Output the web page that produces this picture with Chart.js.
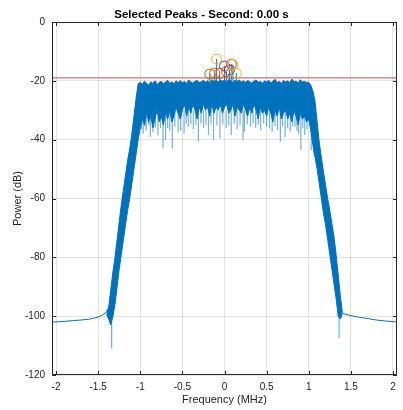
<!DOCTYPE html>
<html lang="en">
<head>
    <meta charset="UTF-8">
    <title>Selected Peaks</title>
    <script src="https://cdn.jsdelivr.net/npm/chart.js"></script>
    <style>
        body { margin: 0; background: #fff; }
        canvas { display: block; }
    </style>
</head>
<body>
    <canvas id="peaksChart" width="403" height="410"></canvas>

    <script>
        // Axis ticks
        const xTicks = [-2, -1.5, -1, -0.5, 0, 0.5, 1, 1.5, 2];
        const yTicks = [0, -20, -40, -60, -80, -100, -120];

        // Noise floor outside the band (MHz, dB)
        const floorLeftFreq = [-2.048, -1.9, -1.8, -1.7, -1.6, -1.5, -1.45, -1.4];
        const floorLeftPower = [-102, -101.8, -101.5, -101.3, -101, -100.3, -99.6, -98.6];
        const floorRightFreq = [1.4, 1.42, 1.5, 1.6, 1.7, 1.8, 1.9, 2.048];
        const floorRightPower = [-98.8, -99.2, -99.8, -100.4, -100.8, -101.3, -101.6, -102];

        // Band spectrum, sampled every 0.025 MHz from -1.4 to 1.4: top and bottom of the trace
        const bandStart = -1.4;
        const bandStep = 0.025;
        const bandUpper = [
            -98.6, -97, -91, -85, -80, -74, -68, -62, -57, -52, -47, -43, -38, -32, -26, -21,
            -20.6, -21.2, -20.1, -20.8, -21.5, -20.3, -20.9, -20.0, -21.3, -20.5,
            -20.2, -21.0, -20.4, -19.8, -20.9, -20.3, -21.1, -20.0, -20.6, -19.9,
            -20.7, -20.2, -21.0, -19.7, -20.4, -20.8, -20.1, -19.9, -20.6, -20.3,
            -19.8, -20.5, -20.0, -20.7, -19.6, -20.2, -19.9, -20.4, -19.7, -20.1,
            -19.8, -20.3, -19.6, -20.0, -20.5, -19.8, -20.2, -19.7, -20.4, -20.0,
            -20.6, -19.9, -20.3, -20.8, -20.1, -19.7, -20.5, -20.2, -20.9, -20.0,
            -20.4, -19.8, -20.7, -20.1, -19.5, -20.6, -20.2, -20.9, -19.9, -20.4,
            -20.0, -20.7, -19.4, -20.3, -20.1, -20.8, -19.6, -20.4, -20.2, -20.6,
            -20.5, -21.5, -23.5, -27, -34, -41, -46, -51, -55.5, -60, -64, -68.5, -73, -79, -86, -93, -98.8
        ];
        const bandLower = [
            -99.4, -101, -103, -100, -96, -90, -84, -79, -74, -69, -64, -60, -55, -50, -45, -40,
            -36, -33, -35, -31, -34, -32, -36, -33, -30, -34,
            -32, -35, -31, -33, -30, -34, -32, -29, -31, -33,
            -30, -28, -32, -29, -31, -28, -30, -33, -29, -31,
            -28, -30, -29, -32, -28, -31, -29, -30, -28, -31,
            -29, -28, -31, -30, -28, -32, -29, -30, -31, -28,
            -30, -32, -29, -31, -28, -30, -33, -29, -31, -30,
            -32, -29, -31, -34, -30, -32, -29, -33, -31, -30,
            -33, -31, -34, -30, -32, -35, -31, -33, -32, -34,
            -33, -37, -42, -46, -50, -55, -60, -65, -69, -74, -79, -84, -89, -94, -100, -101, -99.2
        ];

        // Deep dips below the trace
        const spikeFreq = [-1.34, -0.985, -0.965, -0.945, -0.93, -0.9, -0.88, -0.85, -0.82, -0.79, -0.76,
            -0.73, -0.7, -0.675, -0.65, -0.62, -0.59, -0.55, -0.52, -0.48, -0.455, -0.43, -0.4, -0.37,
            -0.34, -0.31, -0.28, -0.25, -0.22, -0.19, -0.16, -0.13, -0.09, -0.054, -0.02, 0.02, 0.05,
            0.08, 0.115, 0.15, 0.185, 0.22, 0.236, 0.27, 0.31, 0.34, 0.37, 0.4, 0.43, 0.465, 0.5, 0.535,
            0.566, 0.6, 0.63, 0.663, 0.69, 0.72, 0.75, 0.78, 0.81, 0.837, 0.86, 0.88, 0.907, 0.93,
            0.953, 0.98, 1.03, 1.06, 1.36];
        const spikeTop = [-95, -32, -32, -32, -32, -32, -32, -32, -32, -32, -32,
            -32, -32, -30, -30, -30, -30, -30, -30, -30, -30, -30, -30, -30,
            -30, -30, -30, -30, -30, -30, -30, -30, -30, -30, -30, -30, -30,
            -30, -30, -30, -30, -30, -30, -30, -30, -30, -30, -30, -30, -30, -30, -30,
            -30, -30, -30, -30, -30, -30, -30, -30, -30, -30, -30, -30, -30, -30,
            -30, -30, -35, -40, -95];
        const spikeBottom = [-111, -36.5, -38, -35.5, -37, -35, -39, -37.5, -35.8, -38.5, -36,
            -43, -40, -36, -37, -43, -35.5, -37.5, -37, -38, -34.5, -35.6, -34.8, -36.5,
            -35, -40.7, -34.5, -36, -35, -38.4, -34.6, -40, -35.2, -39.5, -34.8, -36, -35,
            -38.4, -34.6, -36.5, -35.2, -40, -37.3, -34.8, -35.6, -34.5, -36, -35, -36.7, -34.6, -35.5, -36.2,
            -37.3, -35.4, -36.8, -40.7, -35.5, -39, -36.2, -37.3, -35.5, -35.6, -37, -38, -43.5, -36,
            -38.4, -36.5, -43.5, -44.6, -107.5];

        // Selected peaks above the threshold
        const threshold = -19;
        const peakBase = -20;
        const peakFreq = [-0.174, -0.116, -0.093, -0.058, 0.0, 0.023, 0.058, 0.081, 0.1, 0.14];
        const peakPower = [-17.7, -17.4, -12.6, -17.4, -15.0, -16.9, -16.3, -14.3, -14.5, -17.4];
        const peakColors = ['#D95319', '#D95319', '#EDB120', '#D95319', '#7E2F8E',
            '#D95319', '#7E2F8E', '#D95319', '#EDB120', '#EDB120'];

        const blue = '#0072BD';
        const fontFamily = "'Liberation Sans', Arial, sans-serif";

        function toPoints(xs, ys) {
            return xs.map((x, i) => ({ x: x, y: ys[i] }));
        }

        const bandFreq = bandUpper.map((_, i) => +(bandStart + i * bandStep).toFixed(3));

        const spikeData = [];
        spikeFreq.forEach((f, i) => {
            spikeData.push({ x: f, y: spikeTop[i] }, { x: f, y: spikeBottom[i] }, { x: f, y: null });
        });

        const peakLineData = [];
        peakFreq.forEach((f, i) => {
            peakLineData.push({ x: f, y: peakBase }, { x: f, y: peakPower[i] }, { x: f, y: null });
        });

        // Box and inward ticks, MATLAB style
        const axesBox = {
            id: 'axesBox',
            afterDraw(chart) {
                const { ctx, chartArea: a, scales } = chart;
                ctx.save();
                ctx.strokeStyle = '#262626';
                ctx.lineWidth = 1;
                ctx.beginPath();
                ctx.rect(a.left + 0.5, a.top + 0.5, a.right - a.left - 1, a.bottom - a.top - 1);
                xTicks.forEach(v => {
                    const px = Math.round(scales.x.getPixelForValue(v)) + 0.5;
                    ctx.moveTo(px, a.bottom); ctx.lineTo(px, a.bottom - 4);
                    ctx.moveTo(px, a.top); ctx.lineTo(px, a.top + 4);
                });
                yTicks.forEach(v => {
                    const py = Math.round(scales.y.getPixelForValue(v)) + 0.5;
                    ctx.moveTo(a.left, py); ctx.lineTo(a.left + 4, py);
                    ctx.moveTo(a.right, py); ctx.lineTo(a.right - 4, py);
                });
                ctx.stroke();
                ctx.restore();
            }
        };

        Chart.defaults.font.family = fontFamily;
        Chart.defaults.color = '#262626';

        new Chart(document.getElementById('peaksChart'), {
            type: 'line',
            data: {
                datasets: [
                    {
                        data: toPoints(peakFreq, peakPower),
                        showLine: false,
                        pointRadius: 5,
                        pointBorderWidth: 1,
                        pointBackgroundColor: 'rgba(0,0,0,0)',
                        pointBorderColor: peakColors,
                        order: 0
                    },
                    {
                        data: [{ x: -2.048, y: threshold }, { x: 2.048, y: threshold }],
                        borderColor: 'rgb(215, 70, 70)',
                        borderWidth: 1,
                        pointRadius: 0,
                        order: 1
                    },
                    {
                        data: peakLineData,
                        borderColor: blue,
                        borderWidth: 1,
                        pointRadius: 0,
                        spanGaps: false,
                        order: 2
                    },
                    {
                        data: spikeData,
                        borderColor: 'rgba(0, 114, 189, 0.55)',
                        borderWidth: 1.2,
                        pointRadius: 0,
                        spanGaps: false,
                        order: 3
                    },
                    {
                        data: toPoints(bandFreq, bandUpper),
                        borderColor: blue,
                        borderWidth: 1,
                        pointRadius: 0,
                        fill: false,
                        order: 5
                    },
                    {
                        data: toPoints(bandFreq, bandLower),
                        borderColor: blue,
                        borderWidth: 1,
                        pointRadius: 0,
                        fill: '-1',
                        backgroundColor: blue,
                        order: 4
                    },
                    {
                        data: toPoints(floorLeftFreq, floorLeftPower),
                        borderColor: blue,
                        borderWidth: 1,
                        pointRadius: 0,
                        order: 6
                    },
                    {
                        data: toPoints(floorRightFreq, floorRightPower),
                        borderColor: blue,
                        borderWidth: 1,
                        pointRadius: 0,
                        order: 6
                    }
                ]
            },
            options: {
                responsive: false,
                animation: false,
                devicePixelRatio: 1,
                layout: { padding: 0 },
                plugins: {
                    legend: { display: false },
                    tooltip: { enabled: false },
                    title: {
                        display: true,
                        text: 'Selected Peaks - Second: 0.00 s',
                        color: '#000',
                        font: { size: 11.5, weight: 'bold' },
                        padding: { top: 7.5, bottom: 0.7 }
                    }
                },
                scales: {
                    x: {
                        type: 'linear',
                        min: -2.048,
                        max: 2.048,
                        afterBuildTicks: s => { s.ticks = xTicks.map(v => ({ value: v })); },
                        afterFit: s => { s.height = 35; s.paddingLeft = 0; s.paddingRight = 0; },
                        ticks: { padding: 6, font: { size: 10 }, callback: v => String(v), maxRotation: 0 },
                        grid: { color: 'rgba(38, 38, 38, 0.12)', drawTicks: false },
                        border: { display: false },
                        title: {
                            display: true,
                            text: 'Frequency (MHz)',
                            font: { size: 11 },
                            padding: { top: 0, bottom: 3.4 }
                        }
                    },
                    y: {
                        type: 'linear',
                        min: -120,
                        max: 0,
                        afterBuildTicks: s => { s.ticks = yTicks.map(v => ({ value: v })); },
                        afterFit: s => { s.width = 52; s.paddingTop = 0; s.paddingBottom = 0; },
                        ticks: { padding: 7, font: { size: 10 }, callback: v => String(v) },
                        grid: { color: 'rgba(38, 38, 38, 0.12)', drawTicks: false },
                        border: { display: false },
                        title: {
                            display: true,
                            text: 'Power (dB)',
                            font: { size: 11 },
                            padding: { top: 11, bottom: 0 }
                        }
                    }
                }
            },
            plugins: [axesBox]
        });
    </script>
</body>
</html>
